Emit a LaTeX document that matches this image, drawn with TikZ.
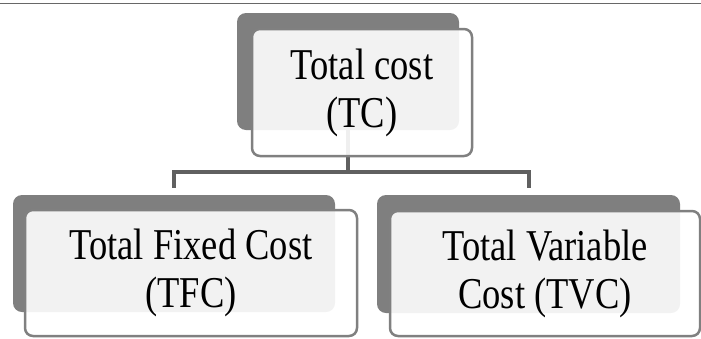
\documentclass[tikz,border=0pt]{standalone}
\usepackage{fontspec}
\newfontfamily\boxfont[FakeStretch=0.83]{Liberation Serif}
\definecolor{shadowgrey}{HTML}{7F7F7F}
\definecolor{edgegrey}{HTML}{808080}
\definecolor{linkgrey}{HTML}{606060}
\begin{document}
\begin{tikzpicture}[x=1pt,y=-1pt,
  backbox/.style={fill=shadowgrey, draw=none, rounded corners=9pt, inner sep=0pt},
  frontbox/.style={fill=white, fill opacity=0.9, text opacity=1, draw=edgegrey,
    line width=2.5pt, rounded corners=8pt, inner sep=0pt, align=center,
    font=\boxfont\fontsize{44}{48}\selectfont},
  link/.style={draw=linkgrey, line width=4pt}]
  \useasboundingbox (0,0) rectangle (701,338);
  % thin rule along the top edge
  \draw[edgegrey!80!black, line width=1pt] (0,3) -- (701,3);

  % junction of the tree connector
  \coordinate (j) at (348,172);
  \coordinate (stemtop) at (348,71.5);
  \draw[link] (stemtop) -- (j);

  % shadow panels
  \node[backbox, minimum width=222pt, minimum height=117pt] (topb) at (stemtop) {};
  \node[backbox, minimum width=322pt, minimum height=117pt] (lb) at (174,253.5) {};
  \node[backbox, minimum width=303pt, minimum height=118pt] (rb) at (528.5,254) {};

  % branch down to the two child panels
  \draw[link] ([yshift=7pt]lb.north) |- (j) -| ([yshift=7pt]rb.north);

  % front boxes with labels
  \node[frontbox, minimum width=220pt, minimum height=127pt] (tc) at (362,92.5)
    {Total cost\\(TC)};
  \node[frontbox, minimum width=332pt, minimum height=126pt] (tfc) at (191,273)
    {Total Fixed Cost\\(TFC)};
  \node[frontbox, minimum width=310pt, minimum height=125pt] (tvc) at (545,273.5)
    {Total Variable\\Cost (TVC)};
\end{tikzpicture}
\end{document}
